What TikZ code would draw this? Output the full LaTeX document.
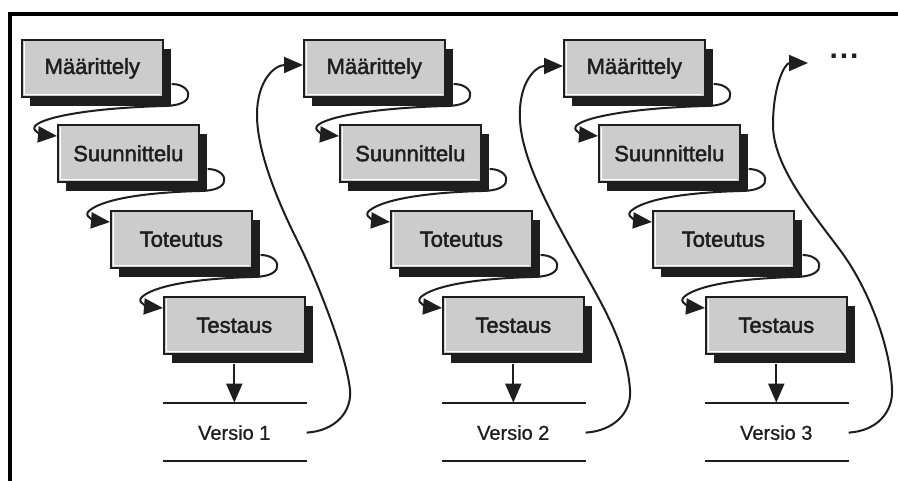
\documentclass[tikz,border=0pt]{standalone}
\usepackage{fontspec}
\setmainfont{Liberation Sans}
\newfontfamily\boxfont[FakeBold=2]{Liberation Sans}
\newfontfamily\labelfont[FakeBold=0.8]{Liberation Sans}
\usetikzlibrary{calc,shadows,arrows.meta}

\definecolor{boxgray}{RGB}{204,204,204}
\definecolor{ink}{RGB}{30,30,30}

\tikzset{
  phase/.style={
    draw=ink, line width=1.6pt, fill=boxgray,
    minimum width=141pt, minimum height=57pt, inner sep=0pt,
    anchor=north west, text=ink,
    font=\boxfont\fontsize{22}{26}\selectfont,
    drop shadow={shadow xshift=8pt, shadow yshift=-9pt, fill=ink, opacity=1},
    path picture={
      \draw[white, line width=1.2pt]
        ([shift={(2.5pt,-2.5pt)}]path picture bounding box.north west) --
        ([shift={(2.5pt,2.5pt)}]path picture bounding box.south west) --
        ([shift={(-2.5pt,2.5pt)}]path picture bounding box.south east);
    }
  },
  release/.style={font=\labelfont\fontsize{20}{24}\selectfont, text=ink, inner sep=0pt},
  link/.style={draw=ink, line width=2pt, -{Triangle[length=19pt,width=16pt]}},
  drop/.style={draw=ink, line width=2pt, -{Triangle[length=19pt,width=16pt]}},
  rule/.style={draw=ink, line width=2pt},
  frame/.style={draw=black, line width=4pt}
}

% S-shaped link from the lower right of one phase to the left side of the next
\newcommand\phaselink[2]{%
  \draw[link] ($(#1.north east)+(8,45)$)
    .. controls ($(#1.north east)+(21,45)$) and ($(#1.north east)+(27,53)$) .. ($(#1.north east)+(24,59)$)
    .. controls ($(#1.north east)+(21,65)$) and ($(#1.north east)+(10,67)$) .. ($(#1.north east)+(0,67)$)
    .. controls ($(#1.north west)+(70,69)$) and ($(#2.north west)+(-14,-7)$) .. ($(#2.north west)+(-22,2)$)
    .. controls ($(#2.north west)+(-26,8)$) and ($(#2.north west)+(-12,11)$) .. ($(#2.north west)+(0,12)$);
}

% one iteration: four phases, the release line and its label
\newcommand\iteration[6]{%
  \node[phase] (m#1) at (#2,39)  {Määrittely};
  \node[phase] (s#1) at (#3,124) {Suunnittelu};
  \node[phase] (t#1) at (#4,210) {Toteutus};
  \node[phase] (e#1) at (#5,296) {Testaus};
  \phaselink{m#1}{s#1}
  \phaselink{s#1}{t#1}
  \phaselink{t#1}{e#1}
  \coordinate (top#1) at ($(e#1.south)+(0,48)$);
  \draw[rule] ($(e#1.south west)+(0,48)$) -- ($(e#1.south east)+(1,48)$);
  \draw[rule] ($(e#1.south west)+(0,106)$) -- ($(e#1.south east)+(1,106)$);
  \node[release] (v#1) at ($(e#1.south)+(0,78)$) {#6};
  \draw[drop] ($(e#1.south)+(0,9)$) -- (top#1);
  \coordinate (out#1) at ($(e#1.south east)+(1,78)$);
}

\begin{document}
\begin{tikzpicture}[x=1pt, y=-1pt]
  \useasboundingbox (0,0) rectangle (898,480);
  \fill[white] (0,0) rectangle (898,480);

  % frame: top and left edges
  \draw[frame] (10,482) -- (10,14) -- (900,14);

  \iteration{1}{21}{57}{110}{163}{Versio 1}
  \iteration{2}{303}{339}{390}{442}{Versio 2}
  \iteration{3}{563}{598}{652}{705}{Versio 3}

  \node[font=\bfseries\fontsize{30}{34}\selectfont, text=ink, inner sep=0pt] (more) at (844,56) {.\kern2pt.\kern2pt.};
  \coordinate (next) at (808,63);

  % feedback from each release to the start of the next iteration
  \draw[link] (out1)
    .. controls (335,431) and (352,412) .. (350,390)
    .. controls (347,357) and (318,282) .. (297,240)
    .. controls (276,198) and (257,150) .. (257,115)
    .. controls (257,80) and (275,65) .. ($(m2.north west)+(0,26)$);
  \draw[link] (out2)
    .. controls (614,431) and (632,412) .. (630,390)
    .. controls (628,357) and (613,325) .. (598,297)
    .. controls (570,245) and (522,170) .. (520,120)
    .. controls (518,82) and (536,66) .. ($(m3.north west)+(0,27)$);
  \draw[link] (out3)
    .. controls (877,431) and (893,412) .. (892,390)
    .. controls (891,350) and (870,290) .. (840,250)
    .. controls (810,210) and (773,165) .. (773,125)
    .. controls (773,85) and (785,63) .. (next);
\end{tikzpicture}
\end{document}
